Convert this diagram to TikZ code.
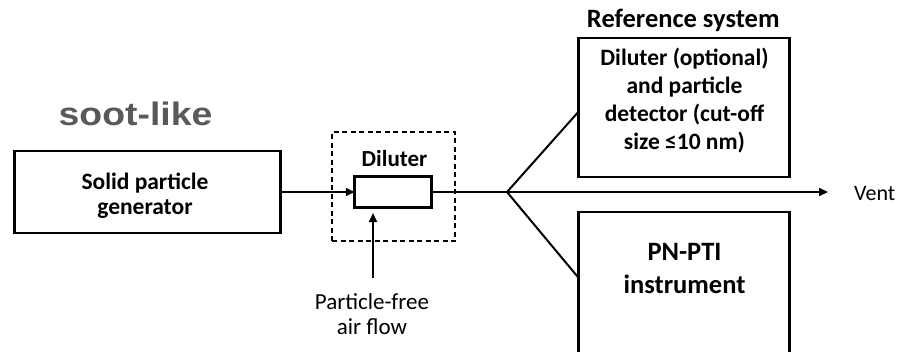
\documentclass[tikz,border=0pt]{standalone}
\usepackage{fontspec}
\setmainfont{Carlito}
\newfontfamily\sootfont[FakeStretch=1.15]{Liberation Sans}
\usetikzlibrary{arrows.meta,positioning,calc}

\definecolor{sootgray}{HTML}{595959}
\tikzset{
  blk/.style={draw,line width=2.6pt,inner sep=0pt,outer sep=0pt},
  dashbox/.style={draw,line width=1.2pt,dash pattern=on 5pt off 3.5pt,inner sep=0pt},
  lbl/.style={align=center,inner sep=0pt,execute at begin node=\strut,execute at end node=\strut},
  flow/.style={line width=2pt,->},
}

\begin{document}
\begin{tikzpicture}[x=1pt,y=-1pt,>={Triangle[length=9pt,width=8pt]}]
\clip (0,0) rectangle (897,351);
% left part: generator and diluter
\node[anchor=base west,font=\sootfont\bfseries\fontsize{32.5}{38}\selectfont,text=sootgray,inner sep=0pt] (soot) at (58.5,125) {soot-like};
\node[blk,minimum width=266pt,minimum height=82pt] (gen) at (147.5,192) {};
\node[lbl,font=\fontsize{23.5}{25}\selectfont\bfseries] (gentxt) at (145,197.5) {Solid particle\\generator};
\node[dashbox,minimum width=123pt,minimum height=109pt] (dilarea) at (393.5,186.5) {};
\node[blk,minimum width=76.5pt,minimum height=31pt] (dil) at (393,192) {};
\node[anchor=base,inner sep=0pt,font=\fontsize{23}{28}\selectfont\bfseries] (diltxt) at (394.5,166) {Diluter};
\node[lbl,font=\fontsize{23}{25}\selectfont] (air) at (372,317.5) {Particle-free\\air flow};
\coordinate (airin) at (373,278);
\coordinate (split) at (507,192);
% right part: reference system and PN-PTI
\node[blk,minimum width=211pt,minimum height=139pt] (ref) at (684.2,107.5) {};
\node[anchor=base,inner sep=0pt,font=\fontsize{26.5}{30}\selectfont\bfseries] (reftitle) at (683.3,27.3) {Reference system};
\node[lbl,font=\fontsize{23.5}{28}\selectfont\bfseries] (reftxt) at (684.5,103.1) {Diluter (optional)\\and particle\\detector (cut-off\\size ≤10 nm)};
\node[blk,minimum width=211pt,minimum height=200pt] (pn) at (684.2,312) {};
\node[lbl,font=\fontsize{26.5}{33.4}\selectfont\bfseries] (pntxt) at (684.5,273.3) {PN-PTI\\instrument};
\node[anchor=base west,inner sep=0pt,font=\fontsize{22}{26}\selectfont] (vent) at (854,200.7) {Vent};
% connectors
\draw[flow] (gen.east) -- (dil.west);
\draw[flow,shorten >=5.5pt] (airin) -- (airin |- dil.south);
\draw[line width=2pt] (dil.east) -- (split);
\draw[flow,shorten >=26pt] (split) -- (split -| vent.west);
\draw[line width=2pt] ([yshift=-4pt]ref.west) -- (split) -- ([yshift=-66pt]pn.north west);
\end{tikzpicture}
\end{document}
